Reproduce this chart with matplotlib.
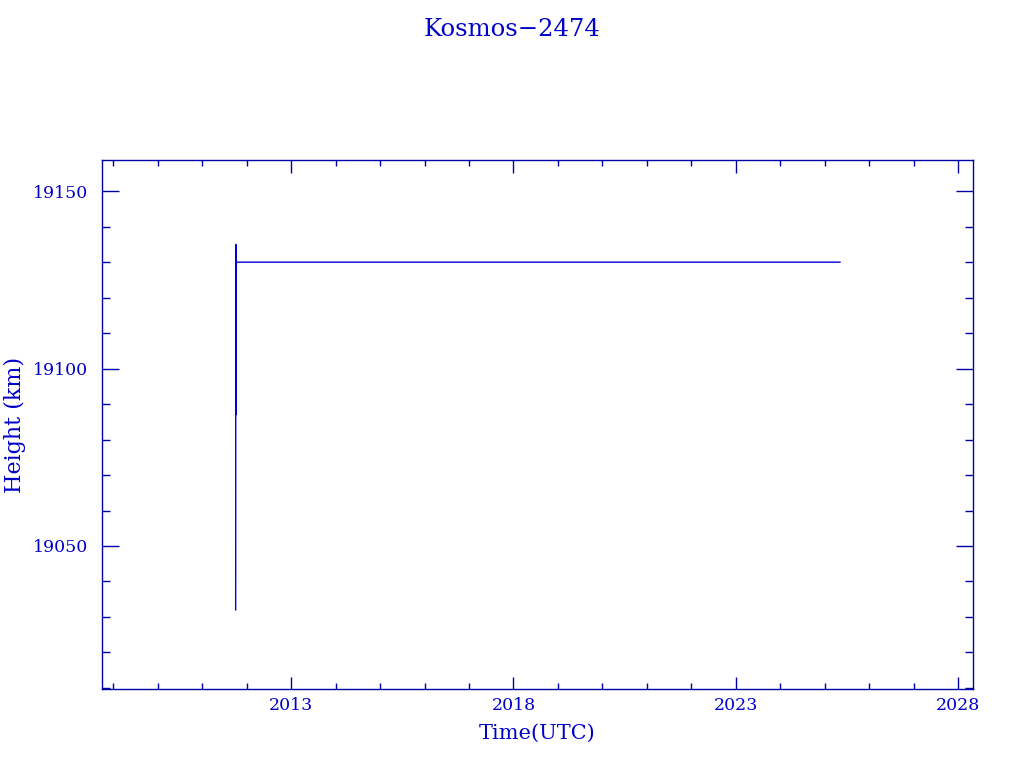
import matplotlib.pyplot as plt
from matplotlib.ticker import MultipleLocator

# Orbit height over time (fractional year, km)
years = [2011.755, 2011.757, 2011.758, 2011.759, 2011.760, 2011.761,
         2011.763, 2011.765, 2011.767, 2011.770, 2011.80, 2012.5,
         2013.5, 2014.5, 2015.5, 2016.5, 2017.5, 2019.0, 2021.0,
         2023.0, 2025.34]
height = [19032, 19087, 19135, 19134, 19088, 19130, 19087, 19130,
          19088, 19130, 19130, 19130, 19130, 19130, 19130, 19130,
          19130, 19130, 19130, 19130, 19130]

blue = '#0000a8'
text_blue = '#0000c8'
plt.rcParams['font.family'] = ['DejaVu Serif']

fig = plt.figure(figsize=(10.24, 7.68), dpi=100)
ax = fig.add_axes([0.0996, 0.1029, 0.8506, 0.6888])
ax.plot(years, height, color='#0000d8', linewidth=1.0)

ax.set_xlim(2008.75, 2028.33)
ax.set_ylim(19009.7, 19158.8)
ax.xaxis.set_major_locator(MultipleLocator(5, offset=3))
ax.xaxis.set_minor_locator(MultipleLocator(1))
ax.yaxis.set_major_locator(MultipleLocator(50))
ax.yaxis.set_minor_locator(MultipleLocator(10))
ax.xaxis.set_major_formatter(lambda v, p: '%d' % round(v))
ax.yaxis.set_major_formatter(lambda v, p: '%d' % round(v))

for s in ax.spines.values():
    s.set_color(blue)
    s.set_linewidth(1.0)
ax.tick_params(which='both', direction='in', top=True, right=True,
               colors=blue, labelcolor=text_blue, labelsize=12.5, width=1.0)
ax.tick_params(axis='x', which='major', length=9)
ax.tick_params(axis='x', which='minor', length=4)
ax.tick_params(axis='y', which='major', length=12)
ax.tick_params(axis='y', which='minor', length=6)
ax.tick_params(axis='x', pad=6)
ax.tick_params(axis='y', pad=10)

fig.text(0.5, 0.961, 'Kosmos\u22122474', ha='center', va='center',
         color=text_blue, fontsize=17.5)
ax.set_xlabel('Time(UTC)', color=text_blue, fontsize=15, labelpad=7)
ax.set_ylabel('Height (km)', color=text_blue, fontsize=16, labelpad=5)

fig.savefig('out.png', dpi=100)
